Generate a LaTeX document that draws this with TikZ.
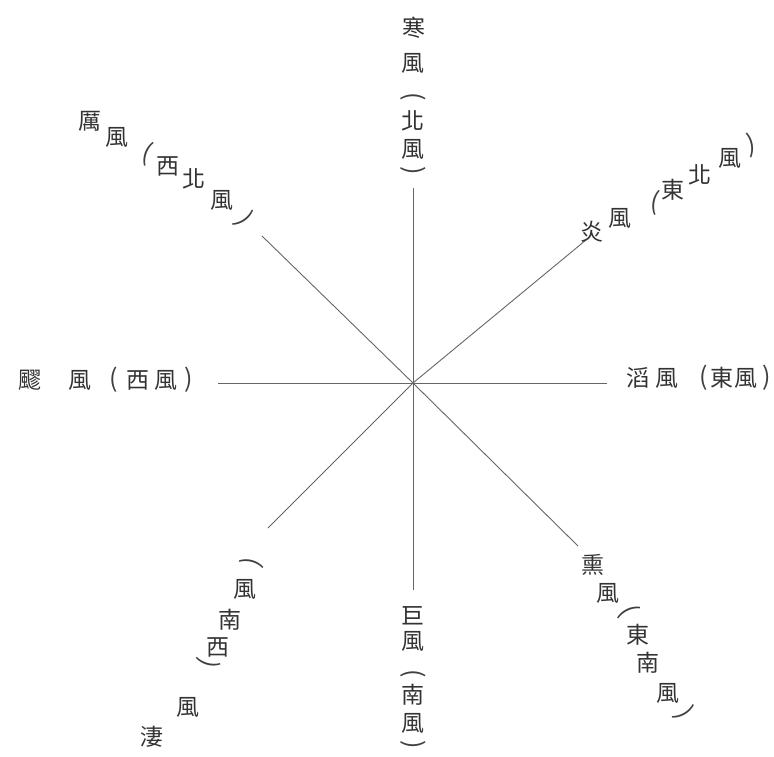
\documentclass[tikz,border=0pt]{standalone}
\usepackage{fontspec}
\newfontfamily\cjk{Noto Sans CJK TC}
\begin{document}
\begin{tikzpicture}[x=1pt,y=-1pt,
  ch/.style={font=\cjk\fontsize{23}{23}\selectfont, text=black!80, inner sep=0pt},
  pr/.style={font=\cjk\fontsize{25}{25}\selectfont, text=black!75, inner sep=0pt},
  ray/.style={draw=black!60, line width=0.9pt}]
\useasboundingbox[fill=white] (0,0) rectangle (774,757);
\coordinate (c) at (413,383);
\coordinate (eN) at (413,188);
\coordinate (eNW) at (262,236);
\coordinate (eNE) at (586,240);
\coordinate (eW) at (218,383);
\coordinate (eE) at (607,383);
\coordinate (eSE) at (578,546);
\coordinate (eS) at (413,590);
\coordinate (eSW) at (268,528);
\foreach \e in {eN,eNW,eNE,eW,eE,eSE,eS,eSW} \draw[ray] (c) -- (\e);
% North
\node[ch] (n1) at (414,28) {寒};
\node[ch] (n2) at (413,63) {風};
\node[pr,rotate=-90] (n3) at (413,97) {(};
\node[ch] (n4) at (413,121) {北};
\node[ch] (n5) at (413,149) {風};
\node[pr,rotate=-90] (n6) at (413,171) {)};
% North-west
\node[ch] (nw1) at (90,121) {厲};
\node[ch] (nw2) at (117,137) {風};
\node[pr,rotate=-20] (nw3) at (147,154) {(};
\node[ch] (nw4) at (168,166) {西};
\node[ch] (nw5) at (194,179) {北};
\node[ch] (nw6) at (222,200) {風};
\node[pr,rotate=-55] (nw7) at (244,220) {)};
% North-east
\node[ch] (ne1) at (592,232) {炎};
\node[ch] (ne2) at (620,218) {風};
\node[pr,rotate=-10] (ne3) at (655,203) {(};
\node[ch] (ne4) at (673,190) {東};
\node[ch] (ne5) at (700,175) {北};
\node[ch] (ne6) at (730,158) {風};
\node[pr,rotate=10] (ne7) at (751,145) {)};
% West
\node[ch] (w1) at (30,380) {飂};
\node[ch] (w2) at (80,380) {風};
\node[pr] (w3) at (114,380) {(};
\node[ch] (w4) at (138,380) {西};
\node[ch] (w5) at (166,380) {風};
\node[pr] (w6) at (189,380) {)};
% East
\node[ch] (e1) at (638,378) {滔};
\node[ch] (e2) at (667,378) {風};
\node[pr] (e3) at (704,378) {(};
\node[ch] (e4) at (722,378) {東};
\node[ch] (e5) at (746,378) {風};
\node[pr] (e6) at (767,378) {)};
% South-east
\node[ch] (se1) at (593,565) {熏};
\node[ch] (se2) at (608,593) {風};
\node[pr,rotate=-65] (se3) at (628,611) {(};
\node[ch] (se4) at (638,635) {東};
\node[ch] (se5) at (648,663) {南};
\node[ch] (se6) at (668,693) {風};
\node[pr,rotate=-60] (se7) at (684,713) {)};
% South
\node[ch] (s1) at (413,616) {巨};
\node[ch] (s2) at (413,641) {風};
\node[pr,rotate=-90] (s3) at (413,674) {(};
\node[ch] (s4) at (413,695) {南};
\node[ch] (s5) at (413,723) {風};
\node[pr,rotate=-90] (s6) at (413,745) {)};
% South-west
\node[pr,rotate=75] (sw1) at (252,562) {)};
\node[ch] (sw2) at (245,589) {風};
\node[ch] (sw3) at (230,620) {南};
\node[ch] (sw4) at (218,647) {西};
\node[pr,rotate=75] (sw5) at (208,663) {(};
\node[ch] (sw6) at (188,707) {風};
\node[ch] (sw7) at (152,737) {淒};
\end{tikzpicture}
\end{document}
